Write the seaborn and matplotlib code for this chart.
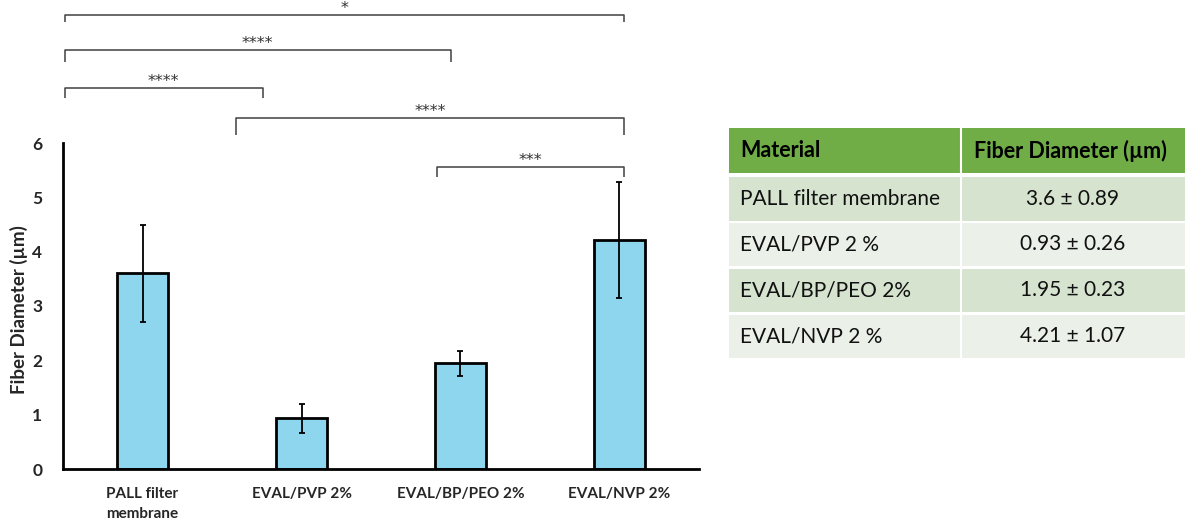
import matplotlib
matplotlib.use("Agg")
import matplotlib.pyplot as plt
from matplotlib.patches import Rectangle
import numpy as np
import pandas as pd
import seaborn as sns

# ---- data ----
categories = ["PALL filter\nmembrane", "EVAL/PVP 2%", "EVAL/BP/PEO 2%", "EVAL/NVP 2%"]
table_names = ["PALL filter membrane", "EVAL/PVP 2 %", "EVAL/BP/PEO 2%", "EVAL/NVP 2 %"]
mean_diam = [3.6, 0.93, 1.95, 4.21]
sd_diam = [0.89, 0.26, 0.23, 1.07]
y_ticks = [0, 1, 2, 3, 4, 5, 6]
sig_labels = ["*", "****", "****", "****", "***"]

# ---- style ----
sns.set_theme(style="white")
plt.rcParams["font.family"] = ["Lato", "DejaVu Sans"]
BAR = "#8DD6EE"
HEAD = "#70AD47"
BAND = ["#D5E3CF", "#EBF0E9"]

W, H = 1185, 528
fig = plt.figure(figsize=(W / 100, H / 100), dpi=100)
fig.patch.set_facecolor("white")

ax = fig.add_axes([63 / W, 59 / H, 636 / W, 326 / H])
df = pd.DataFrame({"group": categories, "mean": mean_diam, "sd": sd_diam})
sns.barplot(data=df, x="group", y="mean", color=BAR, saturation=1,
            edgecolor="black", linewidth=2, width=0.315, errorbar=None, ax=ax)
ax.errorbar(x=np.arange(len(df)), y=df["mean"], yerr=df["sd"], fmt="none",
            ecolor="black", elinewidth=1.3, capsize=2.5, capthick=1.3, zorder=5)

ax.set_xlim(-0.5, len(df) - 0.5)
ax.set_ylim(0, 6)
ax.set_yticks(y_ticks)
ax.set_yticklabels([str(t) for t in y_ticks], fontweight="bold", fontsize=12.5)
ax.tick_params(axis="y", length=0, pad=15)
ax.tick_params(axis="x", length=0, pad=13)
for lab in ax.get_xticklabels():
    lab.set_fontweight("bold")
    lab.set_fontsize(11)
    lab.set_linespacing(1.55)
for side in ("top", "right"):
    ax.spines[side].set_visible(False)
for side in ("left", "bottom"):
    ax.spines[side].set_color("black")
    ax.spines[side].set_linewidth(2)
ax.set_xlabel("")
ax.set_ylabel("Fiber Diameter (µm)", fontweight="bold", fontsize=13.5)
ax.yaxis.set_label_coords(-44 / 636, 0.49)
ax.yaxis.label.set_verticalalignment("center")

# significance brackets: (left x, right x, bar height, drop)
bracket_geom = [
    (-0.49, 3.03, 8.36, 0.13),
    (-0.49, 1.94, 7.71, 0.22),
    (-0.49, 0.755, 7.01, 0.18),
    (0.585, 3.03, 6.46, 0.31),
    (1.855, 3.03, 5.56, 0.19),
]
for (x0, x1, yb, d), lab in zip(bracket_geom, sig_labels):
    ax.plot([x0, x0, x1, x1], [yb - d, yb, yb, yb - d], color="#404040",
            lw=1.1, clip_on=False, solid_capstyle="butt")
    ax.text((x0 + x1) / 2, yb - 0.02, lab, ha="center", va="bottom",
            fontsize=11.5, color="#303030", family="DejaVu Sans", clip_on=False)

# ---- summary table ----
tab = fig.add_axes([0, 0, 1, 1], zorder=-1)
tab.set_xlim(0, W)
tab.set_ylim(H, 0)
tab.axis("off")
x0, xs, x1 = 729, 961, 1185
tab.add_patch(Rectangle((x0, 128), x1 - x0, 45, color=HEAD, lw=0))
tab.text(740, 150.5, "Material", fontsize=15.5, fontweight="bold",
         ha="left", va="center", color="black")
tab.text((xs + x1) / 2 - 3, 150.5, "Fiber Diameter (µm)", fontsize=15.5,
         fontweight="bold", ha="center", va="center", color="black")
row_top = [177, 222.5, 268.5, 314.5]
row_h = 45
for i, (name, m, s) in enumerate(zip(table_names, mean_diam, sd_diam)):
    top = row_top[i]
    tab.add_patch(Rectangle((x0, top), x1 - x0, row_h - 1.5, color=BAND[i % 2], lw=0))
    cy = top + (row_h - 1.5) / 2
    tab.text(740, cy, name, fontsize=15, ha="left", va="center", color="#111111")
    tab.text((xs + x1) / 2, cy, f"{m:g} ± {s:g}", fontsize=15,
             ha="center", va="center", color="#111111")
tab.plot([xs, xs], [128, 360], color="white", lw=1.5)

fig.savefig("out.png", dpi=100, facecolor="white")
